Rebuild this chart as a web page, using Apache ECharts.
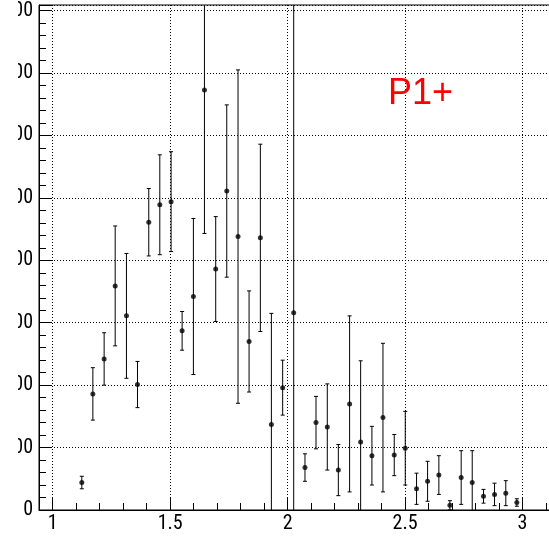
<!DOCTYPE html>
<html><head><meta charset="utf-8">
<script src="https://cdn.jsdelivr.net/npm/echarts@6/dist/echarts.min.js"></script>
<style>
html,body{margin:0;padding:0;background:#fff;overflow:hidden;width:549px;height:537px;}
#chart{position:absolute;left:0;top:0;width:559px;height:537px;}
</style></head><body><div id="chart"></div>
<script>
// ---- data ----
const binCenters = [1.124, 1.171, 1.219, 1.266, 1.314, 1.361, 1.409, 1.456, 1.504, 1.551,
                    1.599, 1.646, 1.694, 1.741, 1.789, 1.836, 1.884, 1.931, 1.979, 2.026,
                    2.074, 2.121, 2.169, 2.216, 2.264, 2.311, 2.359, 2.406, 2.454, 2.501,
                    2.549, 2.596, 2.644, 2.691, 2.739, 2.786, 2.834, 2.881, 2.929, 2.976];
const counts = [44, 186, 242, 359, 311, 201, 461, 489, 494, 287,
                342, 673, 386, 511, 438, 270, 436, 137, 196, 316,
                68, 140, 133, 64, 170, 109, 87, 148, 88, 99,
                34, 46, 56, 7.5, 52, 44, 22, 25, 27, 12];
const errors = [10, 42, 42, 96, 100, 37, 54, 80, 80, 31,
                125, 230, 84, 138, 267, 81, 150, 178, 44, 520,
                22, 42, 69, 41, 141, 130, 47, 119, 33, 59,
                25, 32, 31, 7.4, 43, 51, 11, 18, 20, 6];
const xTickLabels = [1, 1.5, 2, 2.5, 3];
const xMinorTicks = [1.1, 1.2, 1.3, 1.4, 1.6, 1.7, 1.8, 1.9, 2.1, 2.2, 2.3, 2.4,
                     2.6, 2.7, 2.8, 2.9, 3.1];
const yTickLabels = [0, 100, 200, 300, 400, 500, 600, 700, 800];
const labelText = 'P1+';

const X_MIN = 0.9417, X_MAX = 3.1384, Y_MIN = 0, Y_MAX = 809;

const pts = binCenters.map((x, i) => [x, counts[i], errors[i]]);

const chart = echarts.init(document.getElementById('chart'), null, {renderer: 'canvas'});
const axisFont = '"Roboto Condensed", "Liberation Sans", sans-serif';
const dotted = {color: '#000', width: 1, type: [1, 2]};

chart.setOption({
  animation: false,
  backgroundColor: '#fff',
  grid: {left: 39, right: 4, top: 5, bottom: 27, show: true, borderColor: '#000', borderWidth: 1,
         containLabel: false, outerBoundsMode: 'none'},
  xAxis: [{
    type: 'value', min: X_MIN, max: X_MAX,
    axisLine: {show: true, onZero: false, lineStyle: {color: '#000', width: 1}},
    axisTick: {show: true, inside: true, length: 12, lineStyle: {color: '#000'}, customValues: xTickLabels},
    minorTick: {show: false},
    splitLine: {show: true, lineStyle: dotted},
    axisLabel: {
      show: true, margin: 4, color: '#000', fontSize: 20, fontFamily: axisFont,
      customValues: xTickLabels,
      formatter: v => String(v)
    }
  }, {
    type: 'value', min: X_MIN, max: X_MAX, position: 'bottom',
    axisLine: {show: false, onZero: false},
    axisTick: {show: true, inside: true, length: 7, lineStyle: {color: '#000'}, customValues: xMinorTicks},
    splitLine: {show: false},
    axisLabel: {show: false}
  }],
  yAxis: {
    type: 'value', min: Y_MIN, max: Y_MAX, interval: 100,
    axisLine: {show: true, onZero: false, lineStyle: {color: '#000', width: 1}},
    axisTick: {show: true, inside: true, length: 12, lineStyle: {color: '#000'}},
    minorTick: {show: true, splitNumber: 5, length: 7, lineStyle: {color: '#000'}},
    splitLine: {show: true, lineStyle: dotted},
    axisLabel: {
      show: true, margin: 6, color: '#000', fontSize: 20, fontFamily: axisFont,
      showMaxLabel: false, overflow: 'none',
      formatter: v => yTickLabels.some(t => Math.abs(t - v) < 1e-6) ? String(v) : ''
    }
  },
  series: [
    {
      type: 'custom',
      data: pts,
      z: 2,
      renderItem: function (params, api) {
        const x = api.value(0), y = api.value(1), e = api.value(2);
        let lo = y - e, hi = y + e;
        const cutLo = lo < Y_MIN, cutHi = hi > Y_MAX;
        lo = Math.max(lo, Y_MIN); hi = Math.min(hi, Y_MAX);
        const p1 = api.coord([x, lo]), p2 = api.coord([x, hi]);
        const st = {stroke: '#000', lineWidth: 1};
        const ch = [{type: 'line', shape: {x1: p1[0], y1: p1[1], x2: p2[0], y2: p2[1]}, style: st}];
        if (!cutLo) ch.push({type: 'line', shape: {x1: p1[0] - 2, y1: p1[1], x2: p1[0] + 2, y2: p1[1]}, style: st});
        if (!cutHi) ch.push({type: 'line', shape: {x1: p2[0] - 2, y1: p2[1], x2: p2[0] + 2, y2: p2[1]}, style: st});
        return {type: 'group', children: ch};
      }
    },
    {
      type: 'scatter',
      data: pts.map(p => [p[0], p[1]]),
      symbol: 'circle', symbolSize: 5,
      itemStyle: {color: '#000'},
      z: 3
    }
  ],
  graphic: [{
    type: 'rect', left: 0, top: 0, z: 100, silent: true,
    shape: {width: 18, height: 500}, style: {fill: '#fff'}
  }, {
    type: 'text', left: 388, top: 76, z: 10,
    style: {text: labelText, fill: '#ff0000', font: '36px "Liberation Sans", sans-serif'}
  }]
});
</script></body></html>
